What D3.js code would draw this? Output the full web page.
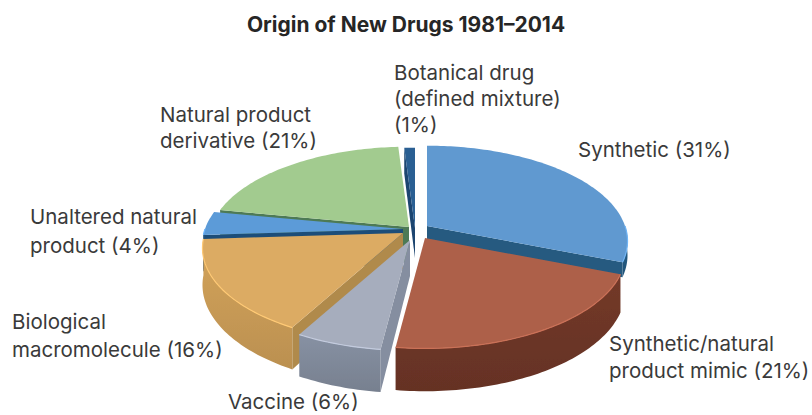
<!DOCTYPE html>
<html>
<head>
<meta charset="utf-8">
<script src="https://cdn.jsdelivr.net/npm/d3@7/dist/d3.min.js"></script>
<style>
html,body{margin:0;padding:0;background:#fff}
svg{display:block}
text{font-family:"Inter","Roboto",sans-serif;fill:#3a3a3a;font-size:20.5px}
</style>
</head>
<body>
<svg id="chart" width="812" height="415"></svg>
<script>
// ---- data ----
const titleText = "Origin of New Drugs 1981–2014";
const categories = ["Synthetic", "Synthetic/natural product mimic", "Vaccine", "Biological macromolecule", "Unaltered natural product", "Natural product derivative", "Botanical drug (defined mixture)"];
const shares = [31, 21, 6, 16, 4, 21, 1];
const labelLines = [
  ["Synthetic (31%)"],
  ["Synthetic/natural", "product mimic (21%)"],
  ["Vaccine (6%)"],
  ["Biological", "macromolecule (16%)"],
  ["Unaltered natural", "product (4%)"],
  ["Natural product", "derivative (21%)"],
  ["Botanical drug", "(defined mixture)", "(1%)"]
];

// ---- styling and layout ----
const topColors  = ["#6099d0", "#ad604a", "#a6adbd", "#dcab63", "#5c9bd8", "#a2cb8f", "#2a5f93"];
const rimColors  = ["#255a80", "#6c3526", "#7f8899", "#c79a55", "#1f4e79", "#4e7a55", "#1c4470"];
const faceColors = ["#255a80", "#6c3526", "#858ea0", "#b08a4c", "#1f4e79", "#4e7a55", "#1c4470"];
const tips = [[427,226],[425,238],[410,240],[403,233],[403,229],[409,227],[415,228]];
const paintOrder = [5, 6, 0, 4, 3, 2, 1];
const labelAnchors = [[578,157],[609,351],[228,409],[12,329],[30,224],[160,122],[394,80]];
const lineSteps = [0,27,0,28,29,26,26];
const sliceDepths = [14,36,36,36,36,36,30];
const R = 198, Ry = 93, persp = 0.158;

const svg = d3.select("#chart");
const defs = svg.append("defs");
defs.append("filter").attr("id","soft").append("feGaussianBlur").attr("stdDeviation",0.55);

const project = (tip, theta, r, h) => {
  const X = Math.sin(theta) * r, Z = -Math.cos(theta) * r;
  const s = 1 / (1 - persp * Z);
  return [tip[0] + R * X * s, tip[1] + Ry * Z * s + h * s];
};
const line = d3.line();
const arcPts = (tip, a, b, h) => {
  const n = Math.max(2, Math.ceil((b - a) / 0.02));
  return d3.range(n + 1).map(i => project(tip, a + (b - a) * i / n, 1, h));
};

const arcs = d3.pie().sort(null).value(d => d)(shares);
const g = svg.append("g").attr("filter","url(#soft)");

paintOrder.forEach(i => {
  const d = arcs[i], tip = tips[i], a = d.startAngle, b = d.endAngle, dp = sliceDepths[i];
  const sl = g.append("g").attr("class","slice");
  const face = th => line([project(tip,th,0,0), project(tip,th,1,0), project(tip,th,1,dp), project(tip,th,0,dp)]) + "Z";
  if (Math.sin(a) < 0.02) sl.append("path").attr("d", face(a)).attr("fill", faceColors[i]);
  if (Math.sin(b) > 0.02) sl.append("path").attr("d", face(b)).attr("fill", faceColors[i]);
  const ra = Math.max(a, Math.PI/2), rb = Math.min(b, 3*Math.PI/2);
  if (rb > ra) {
    const rimId = "rim" + i;
    const grad = defs.append("linearGradient").attr("id", rimId).attr("x1",0).attr("x2",0).attr("y1",0).attr("y2",1);
    grad.append("stop").attr("offset","0%").attr("stop-color", d3.color(rimColors[i]).brighter(0.18));
    grad.append("stop").attr("offset","100%").attr("stop-color", d3.color(rimColors[i]).darker(0.18));
    sl.append("path")
      .attr("d", line(arcPts(tip,ra,rb,0).concat(arcPts(tip,ra,rb,dp).reverse())) + "Z")
      .attr("fill", `url(#${rimId})`);
  }
  sl.append("path")
    .attr("d", line([project(tip,a,0,0)].concat(arcPts(tip,a,b,0))) + "Z")
    .attr("fill", topColors[i]);
  if (rb > ra) {
    sl.append("path")
      .attr("d", line(arcPts(tip,ra,rb,0)))
      .attr("fill","none")
      .attr("stroke", d3.color(topColors[i]).brighter(0.45))
      .attr("stroke-width", 1.2);
  }
});

// ---- text ----
svg.append("text").attr("x",406).attr("y",32).attr("text-anchor","middle")
  .style("font-size","21px").style("font-weight",700).style("fill","#262626").text(titleText);

labelLines.forEach((lines,i) => {
  const t = svg.append("text").attr("class","label");
  lines.forEach((l,j) => t.append("tspan")
    .attr("x", labelAnchors[i][0])
    .attr("y", labelAnchors[i][1] + j * lineSteps[i])
    .text(l));
});
</script>
</body>
</html>
